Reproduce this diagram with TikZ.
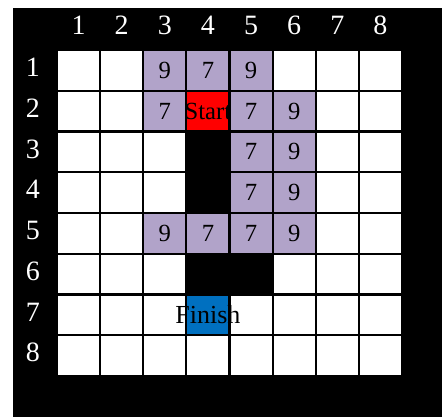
\documentclass[tikz,border=0pt]{standalone}
\usepackage{fontspec}
\setmainfont{Liberation Serif}
\definecolor{lav}{RGB}{177,163,201}
\definecolor{finblue}{RGB}{0,112,192}
\begin{document}
\begin{tikzpicture}[
  x=0.75pt, y=-0.75pt,
  cell/.style={draw=black, line width=1.6pt, fill=white, inner sep=0pt,
    minimum width=32.34pt, minimum height=30.56pt},
  visited/.style={cell, fill=lav},
  wall/.style={cell, fill=black},
  num/.style={inner sep=0pt, font=\fontsize{18.5}{20}\selectfont},
  lbl/.style={inner sep=0pt, text=white, font=\fontsize{21}{22}\selectfont}
]
\useasboundingbox (0,0) rectangle (442,417);
\fill[black] (13,8) rectangle (442,417);
% board
\foreach \r in {1,...,8}
  \foreach \c in {1,...,8}
    \node[cell] (c-\r-\c) at ({57+(\c-0.5)*43.125},{50+(\r-0.5)*40.75}) {};
% walls
\foreach \r/\c in {3/4,4/4,6/4,6/5}
  \node[wall] (w-\r-\c) at (c-\r-\c) {};
% visited cells with costs
\foreach \r/\c/\v in {1/3/9,1/4/7,1/5/9,2/3/7,2/5/7,2/6/9,3/5/7,3/6/9,
    4/5/7,4/6/9,5/3/9,5/4/7,5/5/7,5/6/9} {
  \node[visited] (v-\r-\c) at (c-\r-\c) {};
  \node[num] (t-\r-\c) at (v-\r-\c) {\v};
}
% start and finish
\node[cell, fill=red] (start) at (c-2-4) {};
\node[num] (start-txt) at (start) {Start};
\node[cell, fill=finblue] (finish) at (c-7-4) {};
\node[num, font=\fontsize{19.5}{20}\selectfont] (finish-txt) at (finish) {Finish};
% labels
\foreach \c in {1,...,8}
  \node[lbl] (col-\c) at ({57+(\c-0.5)*43.125},25) {\c};
\foreach \r in {1,...,8}
  \node[lbl] (row-\r) at (33,{47+(\r-0.5)*40.75}) {\r};
\end{tikzpicture}
\end{document}
